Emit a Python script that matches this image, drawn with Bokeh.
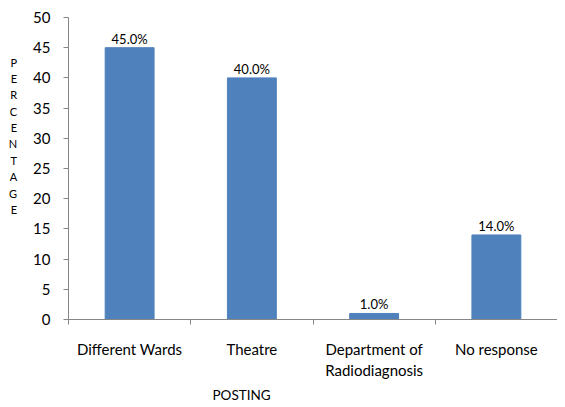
from bokeh.plotting import figure
from bokeh.models import ColumnDataSource, Range1d, FixedTicker, LabelSet, Title
from bokeh.core.properties import value
from bokeh.embed import file_html
from bokeh.resources import INLINE

categories = ["Different Wards", "Theatre", "Department of\nRadiodiagnosis", "No response"]
values = [45.0, 40.0, 1.0, 14.0]
y_ticks = [0, 5, 10, 15, 20, 25, 30, 35, 40, 45, 50]
x_title = "POSTING"
y_title = "PERCENTAGE"

FONT = "Lato"
BAR = "#4F81BD"
AXIS = "#868686"

xs = [i + 0.5 for i in range(len(categories))]
src = ColumnDataSource(dict(x=xs, top=values, lab=[f"{v:.1f}%" for v in values]))

p = figure(width=557, height=399, output_backend="svg", toolbar_location=None,
           x_range=Range1d(0, len(categories)), y_range=Range1d(0, 50),
           min_border_left=68, min_border_right=0, min_border_top=17, min_border_bottom=80,
           frame_width=489, frame_height=302)
p.outline_line_color = None
p.grid.visible = False
p.background_fill_color = "white"
p.border_fill_color = "white"

p.vbar(x="x", top="top", width=0.4, source=src, fill_color=BAR, line_color=BAR)

p.add_layout(LabelSet(x="x", y="top", text="lab", source=src, y_offset=1,
                      text_align="center", text_baseline="bottom",
                      text_font=value(FONT), text_font_size="13px", text_color="#000000"))

# x axis
xa = p.xaxis[0]
xa.ticker = FixedTicker(ticks=xs, minor_ticks=list(range(len(categories) + 1)))
xa.major_label_overrides = {x: c for x, c in zip(xs, categories)}
xa.major_tick_out = 0
xa.major_tick_in = 0
xa.minor_tick_out = 5
xa.minor_tick_in = 0
xa.minor_tick_line_color = AXIS
xa.axis_line_color = AXIS
xa.major_label_standoff = 15
xa.major_label_text_font = FONT
xa.major_label_text_font_size = "15px"
xa.major_label_text_color = "#000000"

# y axis
ya = p.yaxis[0]
ya.ticker = FixedTicker(ticks=y_ticks, minor_ticks=[])
ya.major_tick_out = 5
ya.major_tick_in = 0
ya.major_tick_line_color = AXIS
ya.axis_line_color = AXIS
ya.major_label_standoff = 13
ya.major_label_text_font = FONT
ya.major_label_text_font_size = "15px"
ya.major_label_text_color = "#000000"
# stacked letters; blank lines at the end lift the letters above the frame centre
ya.axis_label = "\n".join(list(y_title) + [" "] * 4)
ya.axis_label_orientation = "horizontal"
ya.axis_label_standoff = 13
ya.axis_label_text_font = FONT
ya.axis_label_text_font_size = "11px"
ya.axis_label_text_font_style = "normal"
ya.axis_label_text_line_height = 1.26
ya.axis_label_text_color = "#000000"

p.add_layout(Title(text=x_title, align="left", offset=144, standoff=4,
                   text_font=FONT, text_font_size="13.5px", text_font_style="normal",
                   text_color="#000000"), "below")

open("out.html", "w").write(file_html(p, INLINE))
